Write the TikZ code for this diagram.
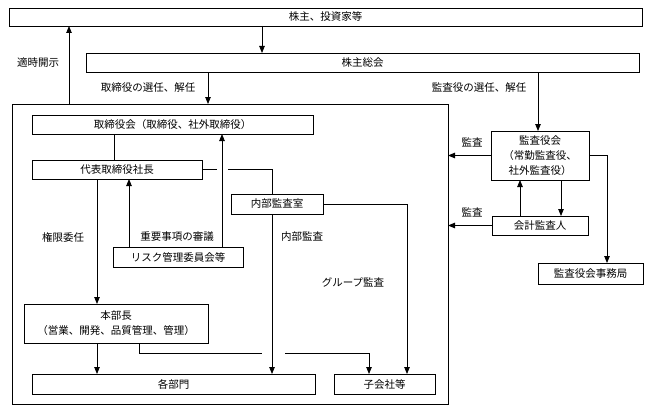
\documentclass[tikz,border=0pt]{standalone}
\usepackage{fontspec}
\setmainfont{Noto Sans CJK JP}
\usetikzlibrary{arrows.meta}
\tikzset{
  box/.style={draw, line width=0.8pt, inner sep=0pt, outer sep=0pt, anchor=north west, align=center,
    font=\fontsize{10.5}{15}\selectfont},
  ln/.style={line width=0.8pt},
  arr/.style={line width=0.8pt, -{Triangle[length=7pt,width=5.5pt]}},
  lab/.style={font=\fontsize{10.5}{13}\selectfont, inner sep=0pt},
}
\begin{document}
\begin{tikzpicture}[x=1pt,y=-1pt]
\useasboundingbox (0,0) rectangle (650,412);
% nodes
\node[box, minimum width=633, minimum height=18] (top) at (9,8) {株主、投資家等};
\node[box, minimum width=553, minimum height=19] (sh) at (86,53) {株主総会};
\node[box, minimum width=436, minimum height=300] (org) at (12,104) {};
\node[box, minimum width=281, minimum height=19] (bod) at (32,115) {取締役会（取締役、社外取締役）};
\node[box, minimum width=170, minimum height=19] (pres) at (32,160) {代表取締役社長};
\node[box, minimum width=92, minimum height=20] (audit) at (231,194) {内部監査室};
\node[box, minimum width=130, minimum height=20] (risk) at (113,247) {リスク管理委員会等};
\node[box, minimum width=184, minimum height=39] (hq) at (24,304) {本部長\\（営業、開発、品質管理、管理）};
\node[box, minimum width=283, minimum height=20] (dept) at (32,374) {各部門};
\node[box, minimum width=101, minimum height=20] (sub) at (334,374) {子会社等};
\node[box, minimum width=98, minimum height=49] (kansa) at (491,131) {監査役会\\（常勤監査役、\\社外監査役）};
\node[box, minimum width=96, minimum height=19] (kaikei) at (492,216) {会計監査人};
\node[box, minimum width=105, minimum height=21] (jimu) at (538,263) {監査役会事務局};
% labels
\node[lab] (l1) at (38,63) {適時開示};
\node[lab] (l2) at (148,88) {取締役の選任、解任};
\node[lab] (l3) at (479,88) {監査役の選任、解任};
\node[lab] (l4) at (63,237) {権限委任};
\node[lab] (l5) at (177,237) {重要事項の審議};
\node[lab] (l6) at (302,237) {内部監査};
\node[lab] (l7) at (353,282) {グループ監査};
\node[lab] (l8) at (472,142) {監査};
\node[lab] (l9) at (472,212) {監査};
% connectors
\draw[arr] (top.south -| 262,0) -- (sh.north -| 262,0);
\draw[arr] (org.north -| 69,0) -- (top.south -| 69,0);
\draw[arr] (sh.south -| 208,0) -- (org.north -| 208,0);
\draw[arr] (sh.south -| 538,0) -- (kansa.north -| 538,0);
\draw[ln] (bod.south -| 114,0) -- (pres.north -| 114,0);
\draw[arr] (risk.north -| 222,0) -- (bod.south -| 222,0);
\draw[arr] (risk.north -| 129,0) -- (pres.south -| 129,0);
\draw[arr] (pres.south -| 97,0) -- (hq.north -| 97,0);
\draw[ln] (pres.east) -- (pres.east -| 217,0) (pres.east -| 228,0) -| (audit.north -| 272,0);
\draw[arr] (audit.south -| 272,0) -- (dept.north -| 272,0);
\draw[arr] (audit.east) -| (sub.north -| 407,0);
\draw[arr] (hq.south -| 97,0) -- (dept.north -| 97,0);
\draw[ln] (hq.south -| 139,0) |- (262,353);
\draw[arr] (285,353) -| (sub.north -| 369,0);
\draw[arr] (kansa.west) -- (kansa.west -| org.east);
\draw[arr] (kaikei.west) -- (kaikei.west -| org.east);
\draw[arr] (kaikei.north -| 520,0) -- (kansa.south -| 520,0);
\draw[arr] (kansa.south -| 561,0) -- (kaikei.north -| 561,0);
\draw[arr] (kansa.east) -| (jimu.north -| 607,0);
\end{tikzpicture}
\end{document}
